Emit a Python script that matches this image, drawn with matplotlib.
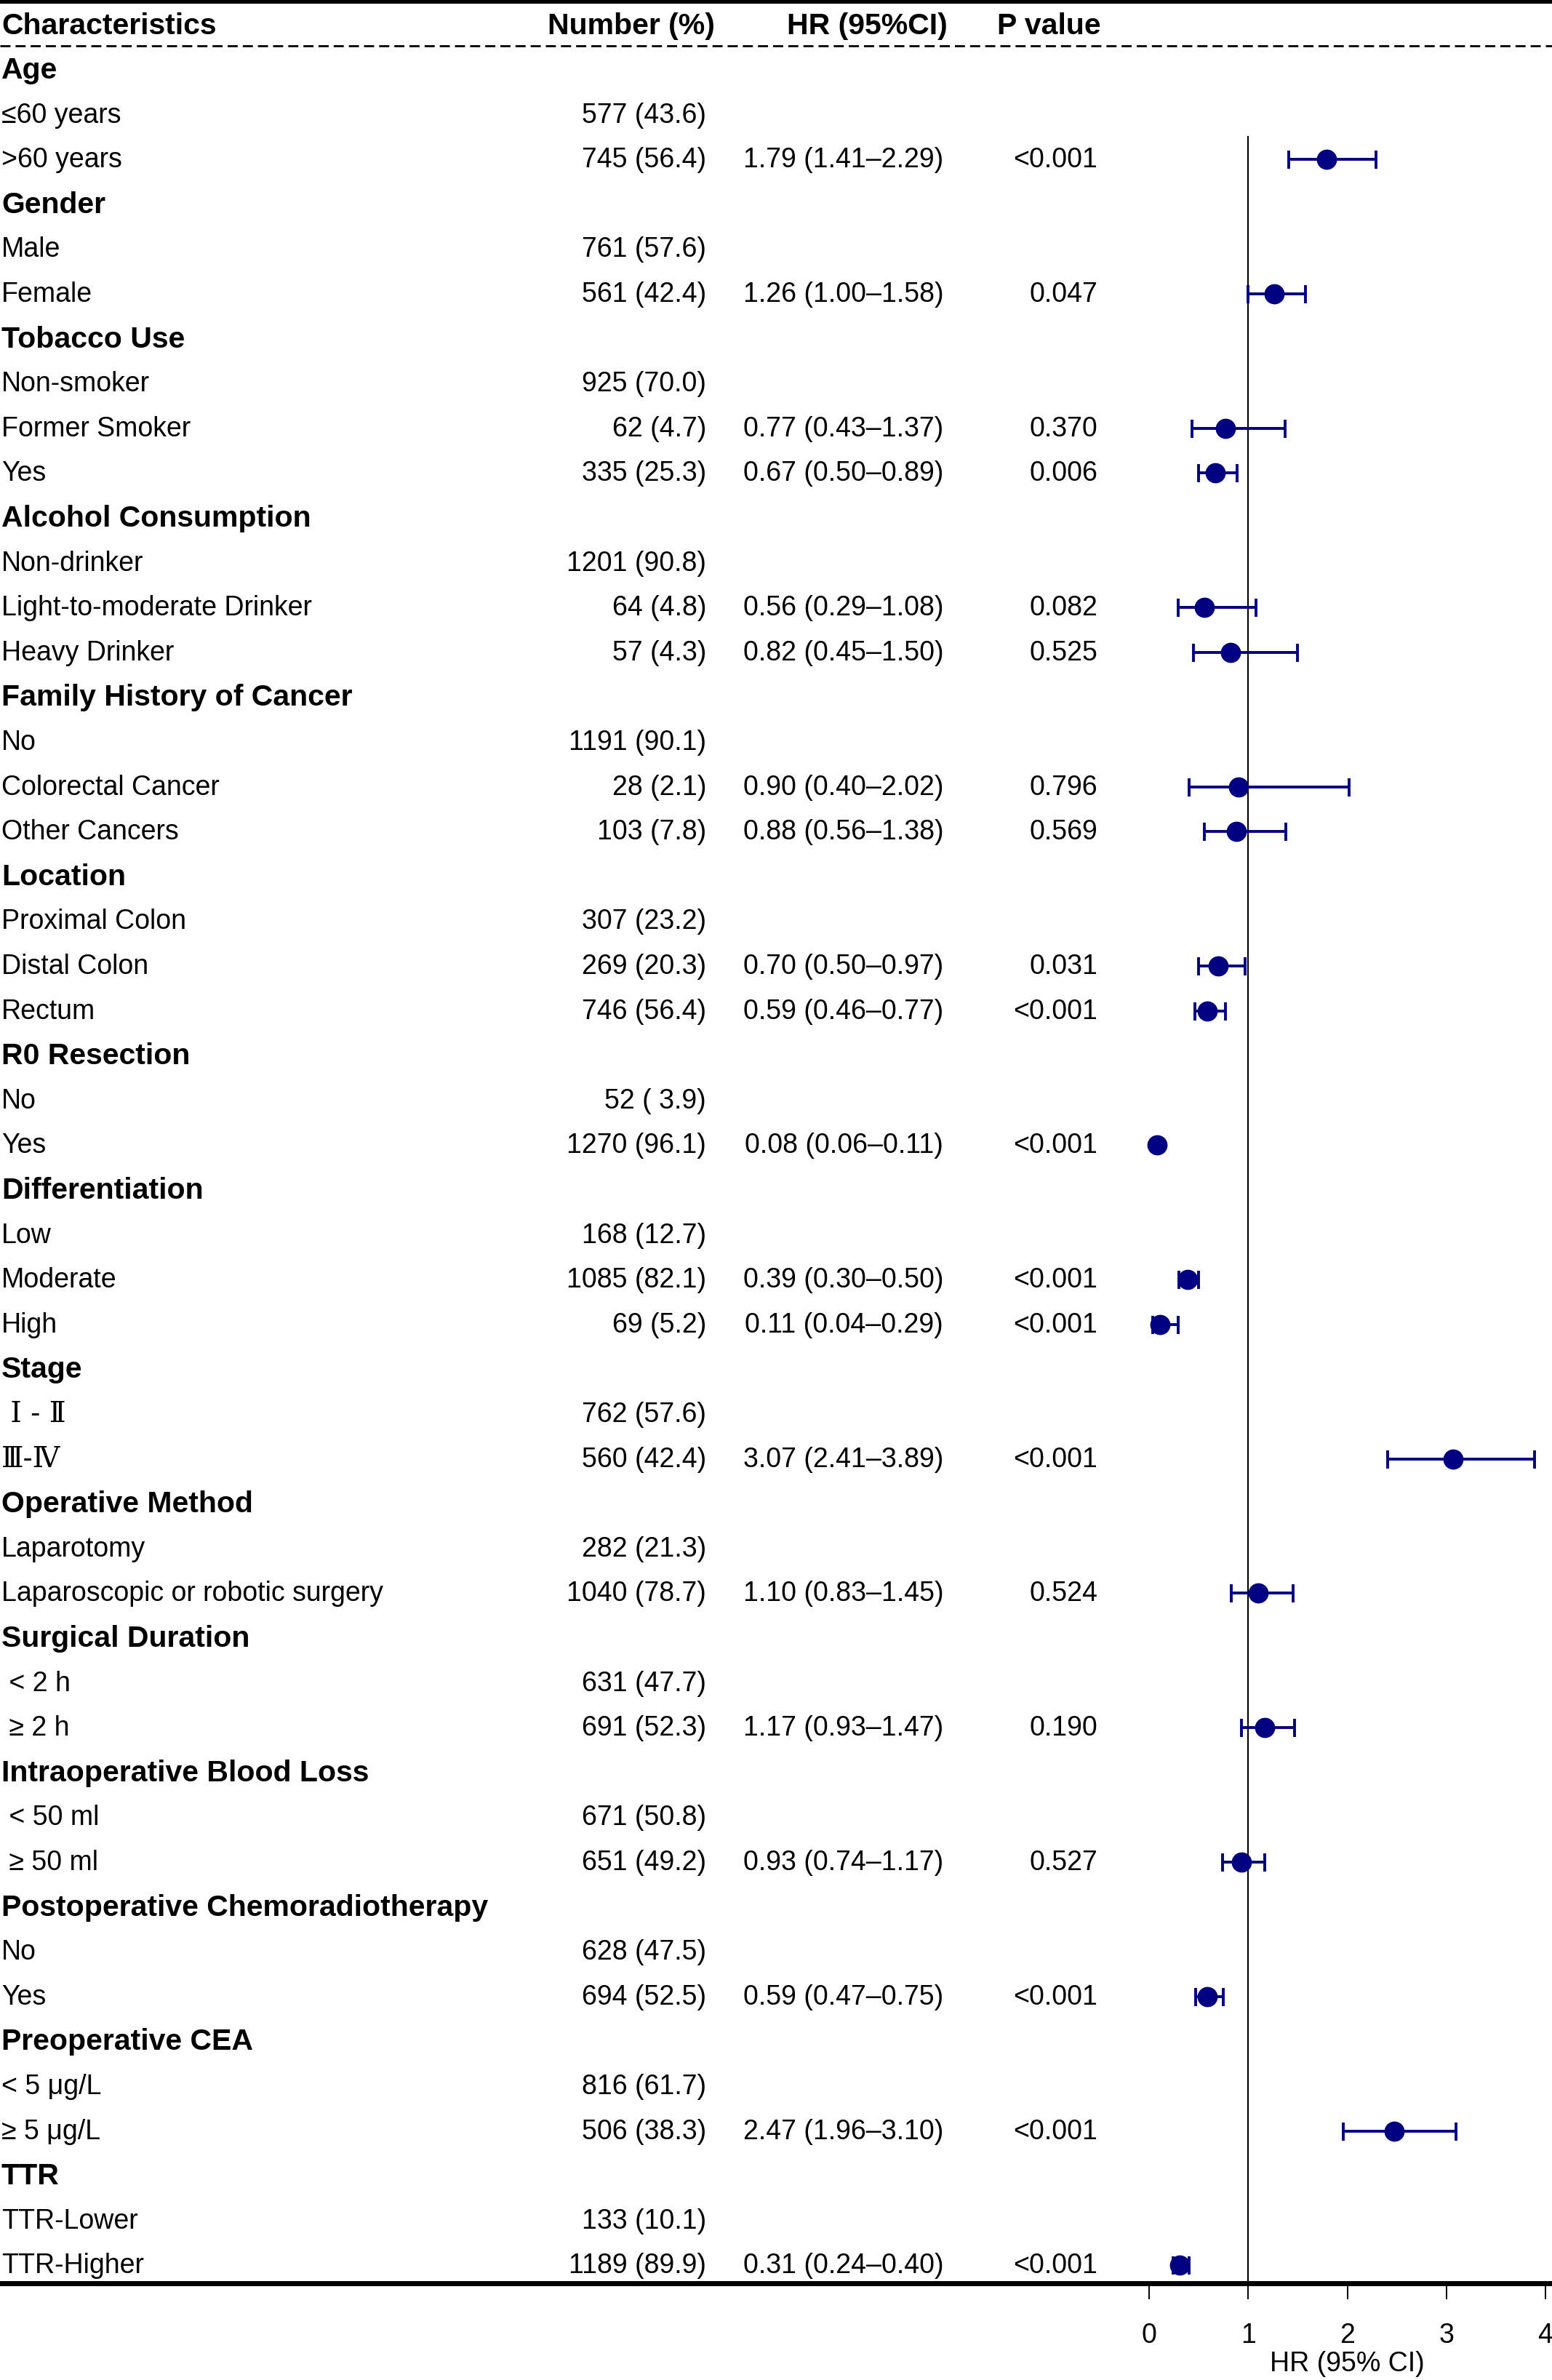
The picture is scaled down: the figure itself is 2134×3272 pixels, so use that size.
import matplotlib
matplotlib.use("Agg")
import matplotlib.pyplot as plt
import numpy as np

plt.rcParams['font.family'] = ['Liberation Sans', 'Noto Sans CJK SC', 'DejaVu Sans']

# table content
labels = ["Age", "≤60 years", ">60 years",
          "Gender", "Male", "Female",
          "Tobacco Use", "Non-smoker", "Former Smoker", "Yes",
          "Alcohol Consumption", "Non-drinker", "Light-to-moderate Drinker", "Heavy Drinker",
          "Family History of Cancer", "No", "Colorectal Cancer", "Other Cancers",
          "Location", "Proximal Colon", "Distal Colon", "Rectum",
          "R0 Resection", "No", "Yes",
          "Differentiation", "Low", "Moderate", "High",
          "Stage", " Ⅰ - Ⅱ", "Ⅲ-Ⅳ",
          "Operative Method", "Laparotomy", "Laparoscopic or robotic surgery",
          "Surgical Duration", " < 2 h", " ≥ 2 h",
          "Intraoperative Blood Loss", " < 50 ml", " ≥ 50 ml",
          "Postoperative Chemoradiotherapy", "No", "Yes",
          "Preoperative CEA", "< 5 μg/L", "≥ 5 μg/L",
          "TTR", "TTR-Lower", "TTR-Higher"]

groups = ["Age", "Gender", "Tobacco Use", "Alcohol Consumption", "Family History of Cancer",
          "Location", "R0 Resection", "Differentiation", "Stage", "Operative Method",
          "Surgical Duration", "Intraoperative Blood Loss", "Postoperative Chemoradiotherapy",
          "Preoperative CEA", "TTR"]

numbers = ["", "577 (43.6)", "745 (56.4)",
           "", "761 (57.6)", "561 (42.4)",
           "", "925 (70.0)", "62 (4.7)", "335 (25.3)",
           "", "1201 (90.8)", "64 (4.8)", "57 (4.3)",
           "", "1191 (90.1)", "28 (2.1)", "103 (7.8)",
           "", "307 (23.2)", "269 (20.3)", "746 (56.4)",
           "", "52 ( 3.9)", "1270 (96.1)",
           "", "168 (12.7)", "1085 (82.1)", "69 (5.2)",
           "", "762 (57.6)", "560 (42.4)",
           "", "282 (21.3)", "1040 (78.7)",
           "", "631 (47.7)", "691 (52.3)",
           "", "671 (50.8)", "651 (49.2)",
           "", "628 (47.5)", "694 (52.5)",
           "", "816 (61.7)", "506 (38.3)",
           "", "133 (10.1)", "1189 (89.9)"]

# HR, lower, upper, p value (None = no estimate on that row)
hr = [None, None, 1.79,
      None, None, 1.26,
      None, None, 0.77, 0.67,
      None, None, 0.56, 0.82,
      None, None, 0.90, 0.88,
      None, None, 0.70, 0.59,
      None, None, 0.08,
      None, None, 0.39, 0.11,
      None, None, 3.07,
      None, None, 1.10,
      None, None, 1.17,
      None, None, 0.93,
      None, None, 0.59,
      None, None, 2.47,
      None, None, 0.31]
lower = [None, None, 1.41,
         None, None, 1.00,
         None, None, 0.43, 0.50,
         None, None, 0.29, 0.45,
         None, None, 0.40, 0.56,
         None, None, 0.50, 0.46,
         None, None, 0.06,
         None, None, 0.30, 0.04,
         None, None, 2.41,
         None, None, 0.83,
         None, None, 0.93,
         None, None, 0.74,
         None, None, 0.47,
         None, None, 1.96,
         None, None, 0.24]
upper = [None, None, 2.29,
         None, None, 1.58,
         None, None, 1.37, 0.89,
         None, None, 1.08, 1.50,
         None, None, 2.02, 1.38,
         None, None, 0.97, 0.77,
         None, None, 0.11,
         None, None, 0.50, 0.29,
         None, None, 3.89,
         None, None, 1.45,
         None, None, 1.47,
         None, None, 1.17,
         None, None, 0.75,
         None, None, 3.10,
         None, None, 0.40]
pvals = ["", "", "<0.001",
         "", "", "0.047",
         "", "", "0.370", "0.006",
         "", "", "0.082", "0.525",
         "", "", "0.796", "0.569",
         "", "", "0.031", "<0.001",
         "", "", "<0.001",
         "", "", "<0.001", "<0.001",
         "", "", "<0.001",
         "", "", "0.524",
         "", "", "0.190",
         "", "", "0.527",
         "", "", "<0.001",
         "", "", "<0.001",
         "", "", "<0.001"]

headers = ["Characteristics", "Number (%)", "HR (95%CI)", "P value"]
xticks = [0, 1, 2, 3, 4]

# layout in pixels
W, H = 2134, 3273
row0_px, step_px = 97, 61.6
bottom_px = 3140
x0_px, x4_px = 1580, 2125

def row_of(px):
    return (px - row0_px) / step_px

fig = plt.figure(figsize=(W / 100, H / 100), dpi=100)
tab = fig.add_axes([0, 0, 1, 1])
tab.set_xlim(0, W)
tab.set_ylim(row_of(H), row_of(0))
tab.axis('off')

fs_body = 27
fs_bold = 29.5

# header
hy = row_of(36)
tab.text(2, hy, headers[0], fontsize=fs_bold, fontweight='bold', va='center', ha='left')
tab.text(983, hy, headers[1], fontsize=fs_bold, fontweight='bold', va='center', ha='right')
tab.text(1192, hy, headers[2], fontsize=fs_bold, fontweight='bold', va='center', ha='center')
tab.text(1514, hy, headers[3], fontsize=fs_bold, fontweight='bold', va='center', ha='right')

for i, lab in enumerate(labels):
    is_group = lab in groups and numbers[i] == ""
    if is_group:
        tab.text(2, i, lab, fontsize=fs_bold, fontweight='bold', va='center', ha='left')
    elif "Ⅱ" in lab or "Ⅳ" in lab:
        # serif roman numerals as in the original
        tab.text(2, i, lab, fontsize=fs_body + 1, family=['DejaVu Serif', 'Noto Sans CJK SC'],
                 va='center', ha='left')
    else:
        tab.text(2, i, lab, fontsize=fs_body, va='center', ha='left')
    if numbers[i]:
        tab.text(971, i, numbers[i], fontsize=fs_body, va='center', ha='right')
    if hr[i] is not None:
        txt = "%.2f (%.2f–%.2f)" % (hr[i], lower[i], upper[i])
        tab.text(1160, i, txt, fontsize=fs_body, va='center', ha='center')
        tab.text(1509, i, pvals[i], fontsize=fs_body, va='center', ha='right')

# rules
tab.axhline(row_of(3), color='black', lw=4.5)
tab.axhline(row_of(64), color='black', lw=2.0, dashes=(5, 2.5))
tab.axhline(row_of(bottom_px), color='black', lw=5)

# forest panel
fx = fig.add_axes([x0_px / W, (H - bottom_px) / H, (x4_px - x0_px) / W, bottom_px / H])
fx.set_xlim(0, 4)
fx.set_ylim(row_of(bottom_px), row_of(0))
fx.patch.set_alpha(0)
for s in ['top', 'right', 'left', 'bottom']:
    fx.spines[s].set_visible(False)
fx.set_yticks([])
fx.set_xticks(xticks)
fx.set_xticklabels([str(t) for t in xticks], fontsize=fs_body)
fx.tick_params(axis='x', length=16, width=1.4, pad=22, color='black')
tab.text((x0_px + x4_px) / 2, row_of(3250), "HR (95% CI)", fontsize=fs_body,
         va='center', ha='center')

fx.plot([1, 1], [1.5, row_of(bottom_px)], color='black', lw=1.5, clip_on=False)

idx = [i for i in range(len(hr)) if hr[i] is not None]
est = np.array([hr[i] for i in idx])
lo = np.array([lower[i] for i in idx])
hi = np.array([upper[i] for i in idx])
fx.errorbar(est, idx, xerr=[est - lo, hi - est], fmt='o', color='navy',
            ms=19, elinewidth=2.8, capsize=9, capthick=2.8, clip_on=False)

fig.savefig("out.png", dpi=100)
